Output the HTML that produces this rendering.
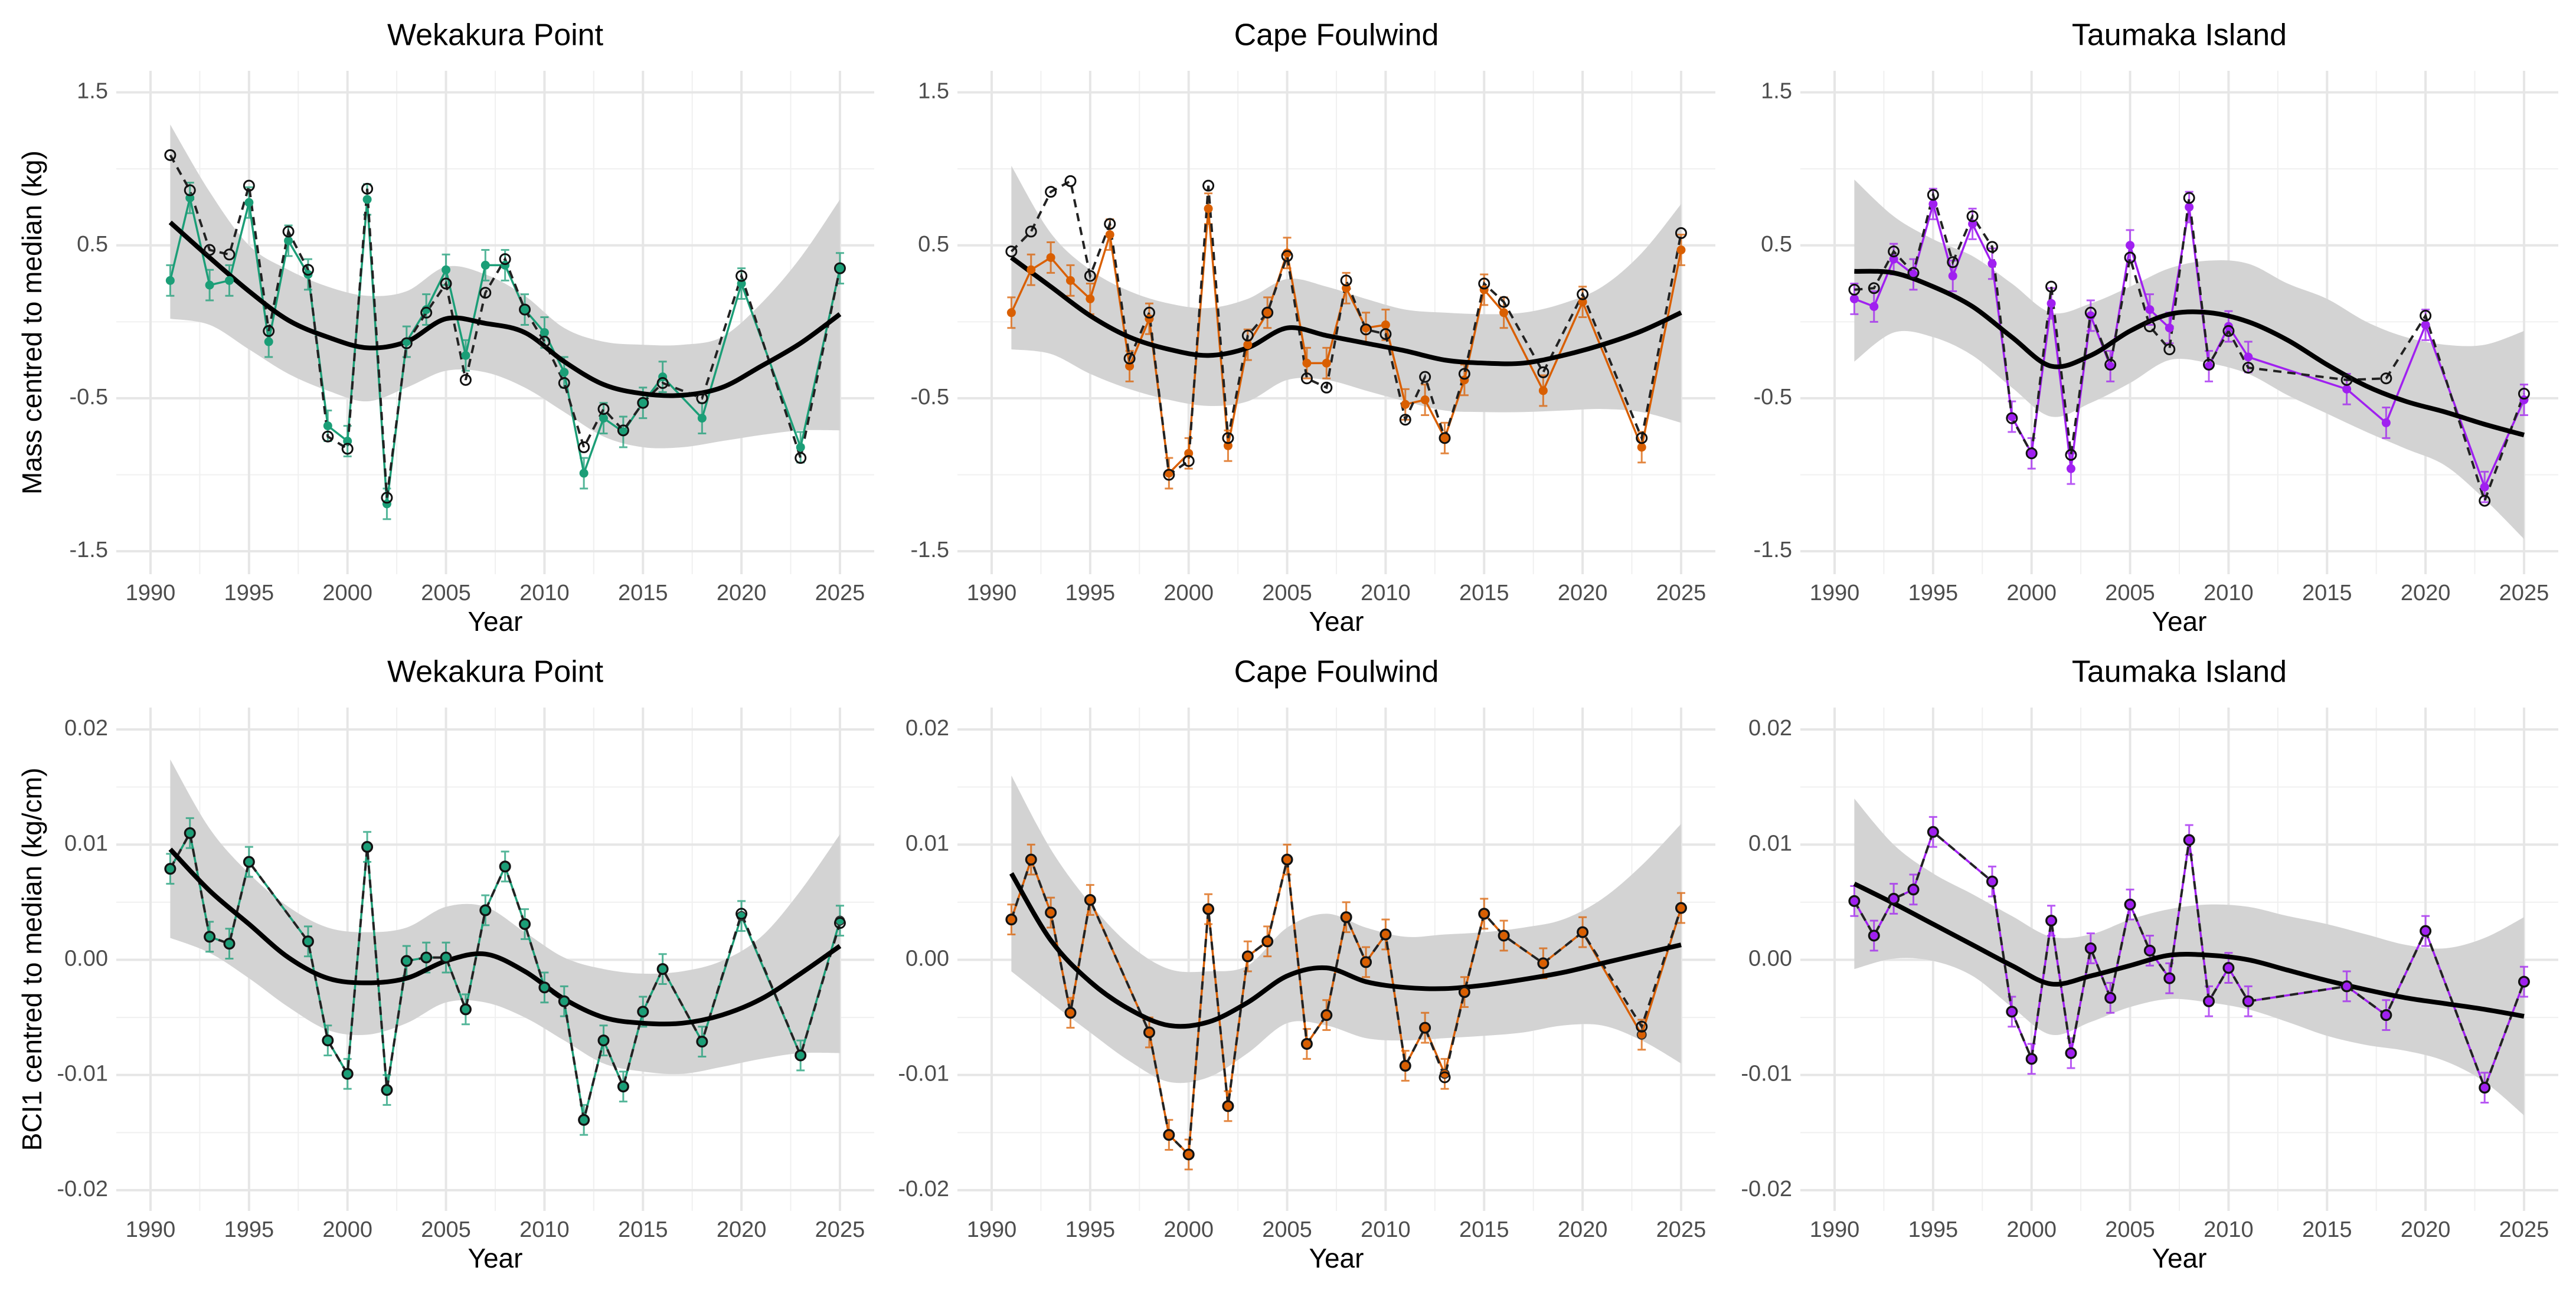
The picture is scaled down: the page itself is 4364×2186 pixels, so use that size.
<!DOCTYPE html>
<html><head><meta charset="utf-8"><style>
html,body{margin:0;padding:0;background:#fff;}
svg{display:block;font-family:"Liberation Sans",sans-serif;}
</style></head><body>
<svg id="fig" width="4364" height="2186" viewBox="0 0 4364 2186" xmlns="http://www.w3.org/2000/svg"></svg>
<script>
// ---------- data ----------
const wkMassYears=[1991,1992,1993,1994,1995,1996,1997,1998,1999,2000,2001,2002,2003,2004,2005,2006,2007,2008,2009,2010,2011,2012,2013,2014,2015,2016,2018,2020,2023,2025];
const wkMassMean=[0.27,0.81,0.24,0.27,0.78,-0.13,0.53,0.31,-0.68,-0.78,0.80,-1.19,-0.13,0.08,0.34,-0.22,0.37,0.37,0.08,-0.07,-0.33,-0.99,-0.63,-0.72,-0.53,-0.36,-0.63,0.25,-0.82,0.35];
const wkMassRaw=[1.09,0.86,0.47,0.44,0.89,-0.06,0.59,0.34,-0.75,-0.83,0.87,-1.15,-0.14,0.06,0.25,-0.38,0.19,0.41,0.08,-0.13,-0.40,-0.82,-0.57,-0.71,-0.53,-0.40,-0.50,0.30,-0.89,0.35];
const cfMassYears=wkMassYears;
const cfMassMean=[0.06,0.34,0.42,0.27,0.15,0.57,-0.29,0.02,-0.99,-0.86,0.74,-0.81,-0.15,0.06,0.45,-0.27,-0.27,0.22,-0.04,-0.02,-0.54,-0.51,-0.76,-0.38,0.21,0.06,-0.45,0.13,-0.82,0.47];
const cfMassRaw=[0.46,0.59,0.85,0.92,0.30,0.64,-0.24,0.06,-1.00,-0.91,0.89,-0.76,-0.09,0.06,0.43,-0.37,-0.43,0.27,-0.05,-0.08,-0.64,-0.36,-0.76,-0.34,0.25,0.13,-0.33,0.18,-0.76,0.58];
const tiMassYears=[1991,1992,1993,1994,1995,1996,1997,1998,1999,2000,2001,2002,2003,2004,2005,2006,2007,2008,2009,2010,2011,2016,2018,2020,2023,2025];
const tiMassMean=[0.15,0.10,0.41,0.31,0.77,0.30,0.64,0.38,-0.62,-0.86,0.12,-0.96,0.04,-0.29,0.50,0.08,-0.04,0.75,-0.29,-0.03,-0.23,-0.44,-0.66,-0.02,-1.08,-0.51];
const tiMassRaw=[0.21,0.22,0.46,0.32,0.83,0.39,0.69,0.49,-0.63,-0.86,0.23,-0.87,0.06,-0.28,0.42,-0.03,-0.18,0.81,-0.28,-0.06,-0.30,-0.38,-0.37,0.04,-1.17,-0.47];

const smYears=[1991,1993,1995,1997,1999,2001,2003,2005,2007,2009,2011,2013,2015,2017,2019,2021,2023,2025];
const wkMassFit=[0.65,0.42,0.20,0.01,-0.10,-0.17,-0.13,0.02,-0.01,-0.07,-0.26,-0.41,-0.47,-0.48,-0.43,-0.29,-0.14,0.05];
const wkMassHi=[1.29,0.85,0.50,0.34,0.23,0.17,0.20,0.36,0.31,0.17,-0.04,-0.13,-0.15,-0.15,-0.10,0.12,0.42,0.80];
const wkMassLo=[0.02,-0.02,-0.18,-0.34,-0.45,-0.52,-0.43,-0.32,-0.33,-0.43,-0.59,-0.75,-0.82,-0.82,-0.78,-0.74,-0.71,-0.71];
const cfMassFit=[0.42,0.23,0.04,-0.10,-0.18,-0.22,-0.17,-0.04,-0.09,-0.14,-0.19,-0.25,-0.27,-0.27,-0.22,-0.15,-0.06,0.06];
const cfMassHi=[1.02,0.58,0.34,0.20,0.12,0.09,0.15,0.28,0.23,0.15,0.08,0.06,0.05,0.06,0.12,0.23,0.45,0.77];
const cfMassLo=[-0.18,-0.21,-0.34,-0.44,-0.51,-0.55,-0.52,-0.38,-0.38,-0.45,-0.52,-0.58,-0.59,-0.59,-0.58,-0.57,-0.59,-0.66];
const tiMassFit=[0.33,0.32,0.23,0.10,-0.10,-0.29,-0.22,-0.06,0.05,0.06,0.00,-0.12,-0.28,-0.42,-0.52,-0.59,-0.67,-0.74];
const tiMassHi=[0.93,0.69,0.54,0.43,0.25,0.06,0.12,0.23,0.35,0.40,0.38,0.25,0.15,0.00,-0.10,-0.15,-0.15,-0.06];
const tiMassLo=[-0.26,-0.07,-0.10,-0.22,-0.43,-0.62,-0.53,-0.40,-0.25,-0.27,-0.34,-0.48,-0.60,-0.72,-0.83,-0.94,-1.16,-1.42];

const wkBciYears=[1991,1992,1993,1994,1995,1998,1999,2000,2001,2002,2003,2004,2005,2006,2007,2008,2009,2010,2011,2012,2013,2014,2015,2016,2018,2020,2023,2025];
const wkBciMean=[0.0079,0.0110,0.0020,0.0014,0.0085,0.0016,-0.0070,-0.0099,0.0098,-0.0113,-0.0001,0.0002,0.0002,-0.0043,0.0043,0.0081,0.0031,-0.0024,-0.0036,-0.0139,-0.0070,-0.0110,-0.0045,-0.0008,-0.0071,0.0038,-0.0083,0.0034];
const wkBciRaw=[0.0079,0.0110,0.0020,0.0014,0.0085,0.0016,-0.0070,-0.0099,0.0098,-0.0113,-0.0001,0.0002,0.0002,-0.0043,0.0043,0.0081,0.0031,-0.0024,-0.0036,-0.0139,-0.0070,-0.0110,-0.0045,-0.0008,-0.0071,0.0040,-0.0083,0.0032];
const cfBciYears=wkBciYears;
const cfBciMean=[0.0035,0.0087,0.0041,-0.0046,0.0052,-0.0063,-0.0152,-0.0169,0.0044,-0.0127,0.0003,0.0016,0.0087,-0.0073,-0.0048,0.0037,-0.0002,0.0022,-0.0092,-0.0059,-0.0099,-0.0028,0.0040,0.0021,-0.0003,0.0024,-0.0065,0.0045];
const cfBciRaw=[0.0035,0.0087,0.0041,-0.0046,0.0052,-0.0063,-0.0152,-0.0169,0.0044,-0.0127,0.0003,0.0016,0.0087,-0.0073,-0.0048,0.0037,-0.0002,0.0022,-0.0092,-0.0059,-0.0102,-0.0028,0.0040,0.0021,-0.0003,0.0024,-0.0058,0.0045];
const tiBciYears=[1991,1992,1993,1994,1995,1998,1999,2000,2001,2002,2003,2004,2005,2006,2007,2008,2009,2010,2011,2016,2018,2020,2023,2025];
const tiBciMean=[0.0051,0.0021,0.0053,0.0061,0.0111,0.0068,-0.0045,-0.0086,0.0034,-0.0081,0.0010,-0.0033,0.0048,0.0008,-0.0016,0.0104,-0.0036,-0.0007,-0.0036,-0.0023,-0.0048,0.0025,-0.0111,-0.0019];
const tiBciRaw=tiBciMean;

const wkBciFit=[0.0096,0.0060,0.0031,0.0002,-0.0016,-0.0020,-0.0016,-0.0001,0.0005,-0.0010,-0.0034,-0.0050,-0.0055,-0.0055,-0.0048,-0.0034,-0.0012,0.0012];
const wkBciHi=[0.0174,0.0114,0.0075,0.0046,0.0028,0.0024,0.0028,0.0046,0.0046,0.0024,0.0002,-0.0008,-0.0012,-0.0010,-0.0001,0.0020,0.0060,0.0109];
const wkBciLo=[0.0019,0.0006,-0.0016,-0.0041,-0.0061,-0.0065,-0.0055,-0.0037,-0.0037,-0.0050,-0.0070,-0.0090,-0.0097,-0.0099,-0.0093,-0.0086,-0.0081,-0.0081];
const cfBciFit=[0.0075,0.0017,-0.0019,-0.0043,-0.0057,-0.0054,-0.0037,-0.0014,-0.0007,-0.0019,-0.0024,-0.0025,-0.0022,-0.0017,-0.0011,-0.0003,0.0005,0.0013];
const cfBciHi=[0.0160,0.0096,0.0049,0.0013,-0.0008,-0.0010,-0.0005,0.0028,0.0040,0.0028,0.0020,0.0022,0.0024,0.0028,0.0035,0.0053,0.0082,0.0118];
const cfBciLo=[-0.0010,-0.0037,-0.0063,-0.0088,-0.0106,-0.0102,-0.0081,-0.0055,-0.0057,-0.0068,-0.0070,-0.0068,-0.0066,-0.0063,-0.0057,-0.0057,-0.0070,-0.0090];
const tiBciFit=[0.0066,0.0049,0.0031,0.0013,-0.0005,-0.0021,-0.0014,-0.0005,0.0004,0.0004,0.0000,-0.0009,-0.0018,-0.0026,-0.0033,-0.0038,-0.0043,-0.0049];
const tiBciHi=[0.0140,0.0100,0.0075,0.0057,0.0038,0.0020,0.0022,0.0035,0.0044,0.0048,0.0046,0.0038,0.0031,0.0022,0.0013,0.0010,0.0019,0.0037];
const tiBciLo=[-0.0008,0.0001,-0.0001,-0.0014,-0.0041,-0.0065,-0.0054,-0.0041,-0.0034,-0.0037,-0.0043,-0.0054,-0.0066,-0.0074,-0.0079,-0.0088,-0.0106,-0.0135];

const massTicks=[1.5,0.5,-0.5,-1.5];
const massTickLabels=["1.5","0.5","-0.5","-1.5"];
const bciTicks=[0.02,0.01,0,-0.01,-0.02];
const bciTickLabels=["0.02","0.01","0.00","-0.01","-0.02"];
const yearTicks=[1990,1995,2000,2005,2010,2015,2020,2025];
const siteNames=["Wekakura Point","Cape Foulwind","Taumaka Island"];
const siteColors=["#1b9e77","#d95f02","#a020f0"];

// ---------- drawing ----------
const NS="http://www.w3.org/2000/svg";
const fig=document.getElementById('fig');
function mk(tag,attrs,parent){const e=document.createElementNS(NS,tag);for(const k in attrs)e.setAttribute(k,attrs[k]);(parent||fig).appendChild(e);return e;}
// Catmull-Rom spline through points, returns path segment (without initial M)
function spline(pts){
  let d='';
  for(let i=0;i<pts.length-1;i++){
    const p0=pts[Math.max(0,i-1)],p1=pts[i],p2=pts[i+1],p3=pts[Math.min(pts.length-1,i+2)];
    const c1=[p1[0]+(p2[0]-p0[0])/6,p1[1]+(p2[1]-p0[1])/6];
    const c2=[p2[0]-(p3[0]-p1[0])/6,p2[1]-(p3[1]-p1[1])/6];
    d+=`C${c1[0]},${c1[1]} ${c2[0]},${c2[1]} ${p2[0]},${p2[1]}`;
  }
  return d;
}

const panelLefts=[197,1622,3050];
const rows=[
 {top:120,bottom:973,ymin:-1.65,ymax:1.641,ticks:massTicks,labels:massTickLabels,minor:[1.0,0,-1.0],err:0.1,
  title:"Mass centred to median (kg)",
  sets:[[wkMassYears,wkMassMean,wkMassRaw,wkMassFit,wkMassHi,wkMassLo],[cfMassYears,cfMassMean,cfMassRaw,cfMassFit,cfMassHi,cfMassLo],[tiMassYears,tiMassMean,tiMassRaw,tiMassFit,tiMassHi,tiMassLo]]},
 {top:1199,bottom:2052,ymin:-0.0218,ymax:0.0219,ticks:bciTicks,labels:bciTickLabels,minor:[0.015,0.005,-0.005,-0.015],err:0.0013,
  title:"BCI1 centred to median (kg/cm)",
  sets:[[wkBciYears,wkBciMean,wkBciRaw,wkBciFit,wkBciHi,wkBciLo],[cfBciYears,cfBciMean,cfBciRaw,cfBciFit,cfBciHi,cfBciLo],[tiBciYears,tiBciMean,tiBciRaw,tiBciFit,tiBciHi,tiBciLo]]}
];
const pxPerYear=33.37, plotW=1284;

rows.forEach((row,ri)=>{
  const yt=mk('text',{x:58,y:(row.top+row.bottom)/2,'font-size':46,fill:'#000','text-anchor':'middle','dominant-baseline':'middle',transform:`rotate(-90 58 ${(row.top+row.bottom)/2})`});
  
  
  yt.textContent=row.title;
  for(let pi=0;pi<3;pi++){
    const L=panelLefts[pi], R=L+plotW;
    const x0=L+58;
    const X=v=>x0+(v-1990)*pxPerYear;
    const Y=v=>row.top+(row.ymax-v)/(row.ymax-row.ymin)*(row.bottom-row.top);
    const g=mk('g',{});
    
    
    row.minor.forEach(v=>mk('line',{x1:L,x2:R,y1:Y(v),y2:Y(v),stroke:'#f0f0f0','stroke-width':2},g));
    yearTicks.slice(0,-1).forEach(v=>mk('line',{x1:X(v+2.5),x2:X(v+2.5),y1:row.top,y2:row.bottom,stroke:'#f0f0f0','stroke-width':2},g));
    row.ticks.forEach(v=>mk('line',{x1:L,x2:R,y1:Y(v),y2:Y(v),stroke:'#e6e6e6','stroke-width':4},g));
    yearTicks.forEach(v=>mk('line',{x1:X(v),x2:X(v),y1:row.top,y2:row.bottom,stroke:'#e6e6e6','stroke-width':4},g));
    row.ticks.forEach((v,i)=>{const t=mk('text',{x:L-14,y:Y(v),'font-size':38,fill:'#4d4d4d','text-anchor':'end','dominant-baseline':'middle'},g);
      t.textContent=row.labels[i];});
    yearTicks.forEach(v=>{const t=mk('text',{x:X(v),y:row.bottom+34,'font-size':38,fill:'#4d4d4d','text-anchor':'middle','dominant-baseline':'middle'},g);
      t.textContent=String(v);});
    const xt=mk('text',{x:(L+R)/2,y:row.bottom+84,'font-size':46,fill:'#000','text-anchor':'middle','dominant-baseline':'middle'},g);
    xt.textContent='Year';
    const tt=mk('text',{x:(L+R)/2,y:row.top-57,'font-size':52,fill:'#000','text-anchor':'middle','dominant-baseline':'middle'},g);
    tt.textContent=siteNames[pi];
    const [yrs,mean,raw,fit,hi,lo]=row.sets[pi];
    const col=siteColors[pi];
    // ribbon
    const hiPts=smYears.map((y,i)=>[X(y),Y(hi[i])]);
    const loPts=smYears.map((y,i)=>[X(y),Y(lo[i])]).reverse();
    const d='M'+hiPts[0].join(',')+spline(hiPts)+'L'+loPts[0].join(',')+spline(loPts)+'Z';
    const rib=mk('path',{d:d,fill:'#d3d3d3'},g);
    
    yrs.forEach((y,i)=>{
      const x=X(y),a=Y(mean[i]+row.err),b=Y(mean[i]-row.err);
      mk('path',{d:`M${x},${a}V${b}M${x-7},${a}H${x+7}M${x-7},${b}H${x+7}`,stroke:col,'stroke-width':3,fill:'none',opacity:0.75},g);
    });
    const cl=mk('polyline',{points:yrs.map((y,i)=>X(y)+','+Y(mean[i])).join(' '),fill:'none',stroke:col,'stroke-width':3.5},g);
    
    const dl=mk('polyline',{points:yrs.map((y,i)=>X(y)+','+Y(raw[i])).join(' '),fill:'none',stroke:'#222','stroke-width':4,'stroke-dasharray':'14 10'},g);
    
    const fitPts=smYears.map((y,i)=>[X(y),Y(fit[i])]);
    const sm=mk('path',{d:'M'+fitPts[0].join(',')+spline(fitPts),fill:'none',stroke:'#000','stroke-width':8,'stroke-linejoin':'round'},g);
    
    yrs.forEach((y,i)=>{
      const p=mk('circle',{cx:X(y),cy:Y(mean[i]),r:7.5,fill:col,stroke:ri===1?'#333':'none','stroke-width':2},g);
      
      const o=mk('circle',{cx:X(y),cy:Y(raw[i]),r:8.5,fill:'none',stroke:'#111','stroke-width':3},g);
      
    });
  }
});
</script>
</body></html>
